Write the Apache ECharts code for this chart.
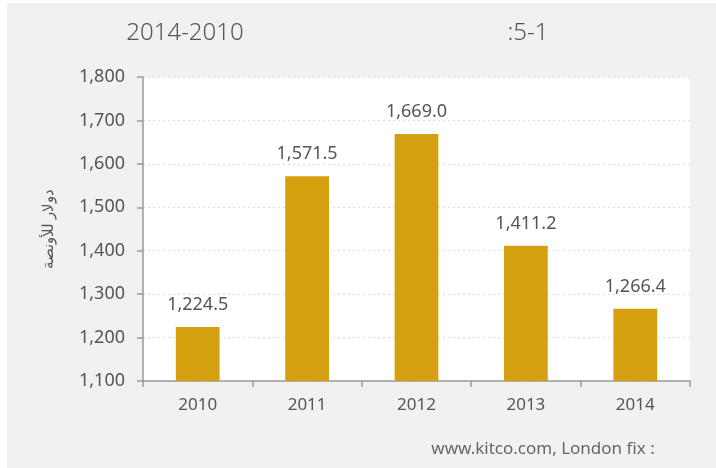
<!DOCTYPE html>
<html>
<head>
<meta charset="utf-8">
<script src="https://cdn.jsdelivr.net/npm/echarts@6/dist/echarts.min.js"></script>
<style>
  html, body { margin: 0; padding: 0; background: #ffffff; }
  #chart { position: absolute; left: 7px; top: 3px; width: 709px; height: 465px; background: #f1f1f1; }
</style>
</head>
<body>
<div id="chart"></div>
<script>
// Gold price, London fix, annual average (USD per ounce)
const years = ['2010', '2011', '2012', '2013', '2014'];
const prices = [1224.5, 1571.5, 1669.0, 1411.2, 1266.4];
const yTicks = { min: 1100, max: 1800, step: 100 };
const titleLeft = '2014-2010';
const titleRight = ':5-1';
const axisName = 'دولار للأونصة';
const sourceNote = 'www.kitco.com, London fix :';

const FONT = '"Noto Sans", "Open Sans", sans-serif';
const chart = echarts.init(document.getElementById('chart'), null, { renderer: 'canvas' });

function caption(text, x, y, size, color, weight) {
  return {
    type: 'text', x: x, y: y, silent: true,
    style: {
      text: text, fill: color, align: 'center', verticalAlign: 'middle',
      font: (weight || 'normal') + ' ' + size + 'px ' + FONT
    }
  };
}

chart.setOption({
  animation: false,
  textStyle: { fontFamily: FONT },
  graphic: [
    caption(titleLeft, 178, 30, 24, '#555555', 300),
    caption(titleRight, 521, 30, 24, '#555555', 300),
    caption(sourceNote, 536, 446, 17, '#666666')
  ],
  grid: {
    left: 136, top: 74, right: 26, bottom: 87,
    show: true, backgroundColor: '#ffffff', borderWidth: 0
  },
  xAxis: {
    type: 'category',
    data: years,
    axisLine: { lineStyle: { color: '#9a9a9a', width: 1.5 } },
    axisTick: { show: true, length: 6, alignWithLabel: false, lineStyle: { color: '#9a9a9a', width: 1.5 } },
    axisLabel: { fontSize: 17, color: '#555555', margin: 16, fontFamily: FONT }
  },
  yAxis: {
    type: 'value',
    min: yTicks.min, max: yTicks.max, interval: yTicks.step,
    name: axisName,
    nameLocation: 'middle',
    nameGap: 87,
    nameTextStyle: { fontSize: 15, color: '#555555', fontFamily: FONT },
    axisLine: { show: true, lineStyle: { color: '#9a9a9a', width: 1.5 } },
    axisTick: { show: true, length: 6, lineStyle: { color: '#9a9a9a', width: 1.5 } },
    axisLabel: {
      fontSize: 18, color: '#555555', margin: 18, fontFamily: FONT,
      formatter: v => v.toLocaleString('en-US')
    },
    splitLine: { show: true, lineStyle: { color: '#dddddd', type: [2, 3], width: 1 } }
  },
  series: [{
    type: 'bar',
    data: prices,
    barWidth: '40%',
    itemStyle: { color: '#d4a00f' },
    label: {
      show: true, position: 'top', distance: 13,
      fontSize: 18, color: '#555555', fontFamily: FONT,
      formatter: p => p.value.toLocaleString('en-US', { minimumFractionDigits: 1, maximumFractionDigits: 1 })
    }
  }]
});
</script>
</body>
</html>
